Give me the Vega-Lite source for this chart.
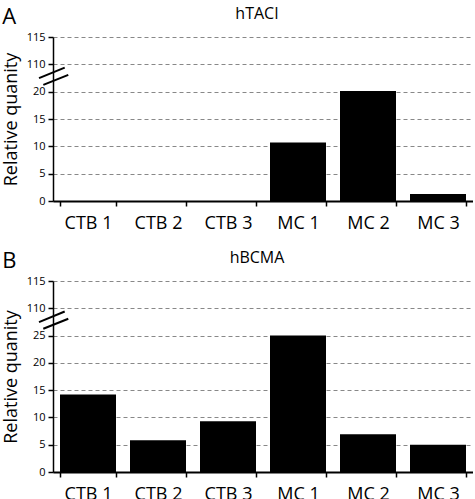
{
  "$schema": "https://vega.github.io/schema/vega-lite/v6.json",
  "padding": {"left": 2, "top": 6, "right": 0, "bottom": 0},
  "background": "white",
  "config": {
    "font": "Open Sans",
    "view": {"stroke": null},
    "title": {"fontWeight": "normal", "color": "black"},
    "axis": {
      "labelColor": "black",
      "titleColor": "black",
      "domainColor": "black",
      "tickColor": "black",
      "titleFontWeight": "normal",
      "labelOverlap": false
    }
  },
  "spacing": 18,
  "vconcat": [
    {
      "title": {"text": "A", "anchor": "start", "frame": "bounds", "fontSize": 22, "dy": 27},
      "vconcat": [
        {
          "title": {"text": "hTACI", "fontSize": 16, "offset": 9, "dx": -6},
          "width": 420,
          "height": 164,
          "data": {"values": [
            {"sample": "CTB 1", "value": 0},
            {"sample": "CTB 2", "value": 0},
            {"sample": "CTB 3", "value": 0},
            {"sample": "MC 1", "value": 10.7},
            {"sample": "MC 2", "value": 20.1},
            {"sample": "MC 3", "value": 1.3}
          ]},
          "layer": [
            {
              "mark": {"type": "bar", "color": "black"},
              "encoding": {
                "x": {"field": "sample", "type": "nominal", "sort": null,
                  "scale": {"paddingInner": 0.2, "paddingOuter": 0.1},
                  "axis": {"title": null, "labelAngle": 0, "labelFontSize": 18, "tickBand": "extent", "tickSize": 5, "domainWidth": 2, "tickWidth": 1.5, "labelPadding": 8}},
                "y": {"field": "value", "type": "quantitative",
                  "scale": {"domain": [0, 30], "nice": false},
                  "axis": {"title": "Relative quanity", "titleFontSize": 18, "titlePadding": 6, "labelFontSize": 11, "values": [0, 5, 10, 15, 20, 25, 30],
                    "labelExpr": "datum.value == 25 ? '110' : datum.value == 30 ? '115' : datum.label",
                    "tickSize": 5, "domainWidth": 1.5, "tickWidth": 1.5, "labelPadding": 3,
                    "grid": true, "gridDash": [4, 3], "gridColor": "#888", "gridWidth": 1}}
              }
            },
            {
              "data": {"values": [{}]},
              "layer": [
                {
                  "mark": {"type": "rule", "color": "black", "strokeWidth": 2, "clip": false},
                  "encoding": {
                    "x": {"datum": -0.0333, "type": "quantitative", "scale": {"domain": [0, 1]}, "axis": null},
                    "x2": {"datum": 0.0279},
                    "y": {"datum": 22.47, "type": "quantitative",
                      "axis": {"title": "Relative quanity", "titleFontSize": 18, "titlePadding": 6, "labelFontSize": 11, "values": [0, 5, 10, 15, 20, 25, 30],
                        "labelExpr": "datum.value == 25 ? '110' : datum.value == 30 ? '115' : datum.label",
                        "tickSize": 5, "domainWidth": 1.5, "tickWidth": 1.5, "labelPadding": 3,
                        "grid": true, "gridDash": [4, 3], "gridColor": "#888", "gridWidth": 1}},
                    "y2": {"datum": 24.41}
                  }
                },
                {
                  "mark": {"type": "rule", "color": "black", "strokeWidth": 2, "clip": false},
                  "encoding": {
                    "x": {"datum": -0.0231, "type": "quantitative", "scale": {"domain": [0, 1]}, "axis": null},
                    "x2": {"datum": 0.0364},
                    "y": {"datum": 21.25, "type": "quantitative",
                      "axis": {"title": "Relative quanity", "titleFontSize": 18, "titlePadding": 6, "labelFontSize": 11, "values": [0, 5, 10, 15, 20, 25, 30],
                        "labelExpr": "datum.value == 25 ? '110' : datum.value == 30 ? '115' : datum.label",
                        "tickSize": 5, "domainWidth": 1.5, "tickWidth": 1.5, "labelPadding": 3,
                        "grid": true, "gridDash": [4, 3], "gridColor": "#888", "gridWidth": 1}},
                    "y2": {"datum": 23.08}
                  }
                }
              ]
            }
          ],
          "resolve": {"scale": {"x": "independent"}}
        }
      ]
    },
    {
      "title": {"text": "B", "anchor": "start", "frame": "bounds", "fontSize": 22, "dy": 27},
      "vconcat": [
        {
          "title": {"text": "hBCMA", "fontSize": 16, "offset": 9, "dx": -6},
          "width": 420,
          "height": 191,
          "data": {"values": [
            {"sample": "CTB 1", "value": 14.2},
            {"sample": "CTB 2", "value": 5.8},
            {"sample": "CTB 3", "value": 9.3},
            {"sample": "MC 1", "value": 25},
            {"sample": "MC 2", "value": 6.9},
            {"sample": "MC 3", "value": 5.0}
          ]},
          "layer": [
            {
              "mark": {"type": "bar", "color": "black"},
              "encoding": {
                "x": {"field": "sample", "type": "nominal", "sort": null,
                  "scale": {"paddingInner": 0.2, "paddingOuter": 0.1},
                  "axis": {"title": null, "labelAngle": 0, "labelFontSize": 18, "tickBand": "extent", "tickSize": 5, "domainWidth": 2, "tickWidth": 1.5, "labelPadding": 8}},
                "y": {"field": "value", "type": "quantitative",
                  "scale": {"domain": [0, 35], "nice": false},
                  "axis": {"title": "Relative quanity", "titleFontSize": 18, "titlePadding": 6, "labelFontSize": 11, "values": [0, 5, 10, 15, 20, 25, 30, 35],
                    "labelExpr": "datum.value == 30 ? '110' : datum.value == 35 ? '115' : datum.label",
                    "tickSize": 5, "domainWidth": 1.5, "tickWidth": 1.5, "labelPadding": 3,
                    "grid": true, "gridDash": [4, 3], "gridColor": "#888", "gridWidth": 1}}
              }
            },
            {
              "data": {"values": [{}]},
              "layer": [
                {
                  "mark": {"type": "rule", "color": "black", "strokeWidth": 2, "clip": false},
                  "encoding": {
                    "x": {"datum": -0.0333, "type": "quantitative", "scale": {"domain": [0, 1]}, "axis": null},
                    "x2": {"datum": 0.0279},
                    "y": {"datum": 27.47, "type": "quantitative",
                      "axis": {"title": "Relative quanity", "titleFontSize": 18, "titlePadding": 6, "labelFontSize": 11, "values": [0, 5, 10, 15, 20, 25, 30, 35],
                        "labelExpr": "datum.value == 30 ? '110' : datum.value == 35 ? '115' : datum.label",
                        "tickSize": 5, "domainWidth": 1.5, "tickWidth": 1.5, "labelPadding": 3,
                        "grid": true, "gridDash": [4, 3], "gridColor": "#888", "gridWidth": 1}},
                    "y2": {"datum": 29.41}
                  }
                },
                {
                  "mark": {"type": "rule", "color": "black", "strokeWidth": 2, "clip": false},
                  "encoding": {
                    "x": {"datum": -0.0231, "type": "quantitative", "scale": {"domain": [0, 1]}, "axis": null},
                    "x2": {"datum": 0.0364},
                    "y": {"datum": 26.25, "type": "quantitative",
                      "axis": {"title": "Relative quanity", "titleFontSize": 18, "titlePadding": 6, "labelFontSize": 11, "values": [0, 5, 10, 15, 20, 25, 30, 35],
                        "labelExpr": "datum.value == 30 ? '110' : datum.value == 35 ? '115' : datum.label",
                        "tickSize": 5, "domainWidth": 1.5, "tickWidth": 1.5, "labelPadding": 3,
                        "grid": true, "gridDash": [4, 3], "gridColor": "#888", "gridWidth": 1}},
                    "y2": {"datum": 28.08}
                  }
                }
              ]
            }
          ],
          "resolve": {"scale": {"x": "independent"}}
        }
      ]
    }
  ]
}
